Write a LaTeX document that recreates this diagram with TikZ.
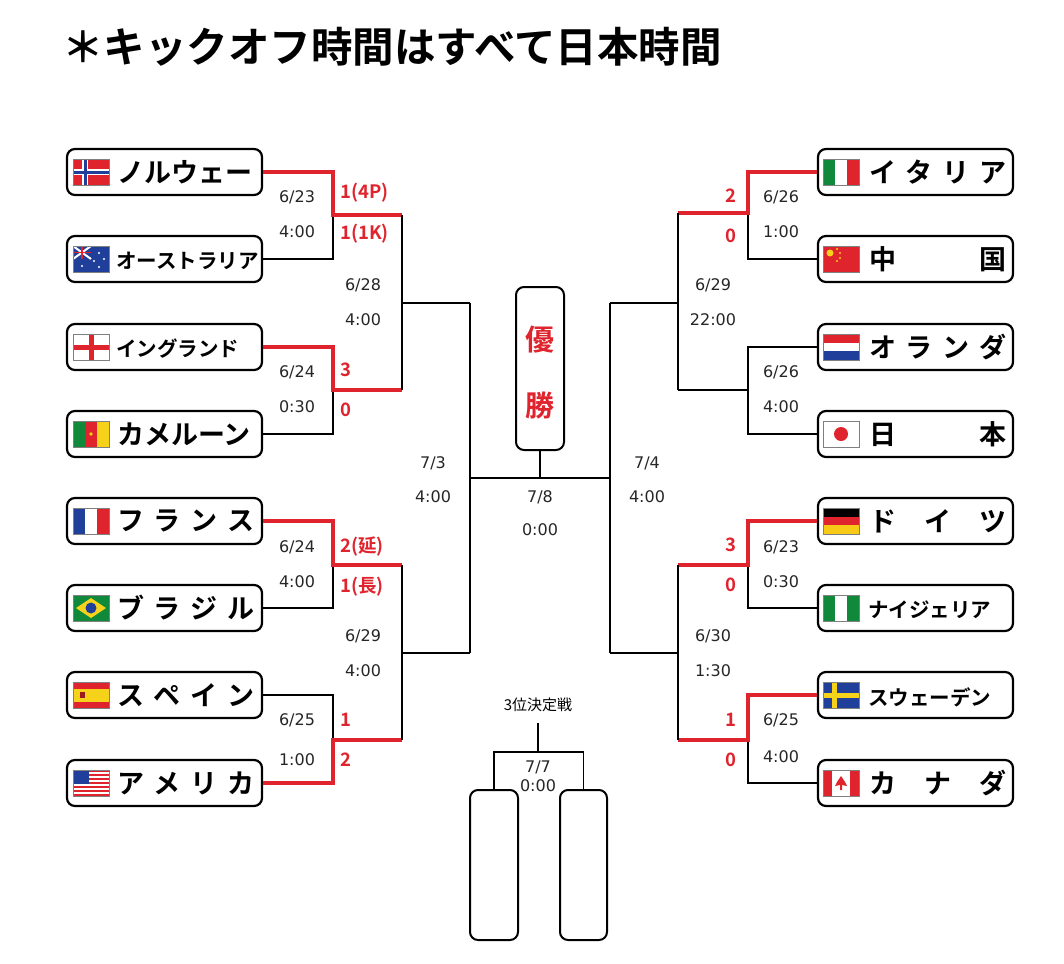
\documentclass[tikz,border=0pt]{standalone}
\usepackage{fontspec}
\setmainfont{DejaVu Sans}
\newfontfamily\jp{Noto Sans CJK JP}
\newfontfamily\jpb{Noto Sans CJK JP Bold}
\begin{document}
\begin{tikzpicture}[x=1pt,y=-1pt,
  team/.style={draw,line width=2.2pt,rounded corners=8pt,minimum width=195pt,minimum height=46pt,inner sep=0pt},
  nm/.style={anchor=west,inner sep=0pt,font=\jpb\fontsize{27}{27}\selectfont},
  nms/.style={anchor=west,inner sep=0pt,font=\jpb\fontsize{20.5}{21}\selectfont},
  dt/.style={font=\fontsize{16}{16}\selectfont,inner sep=0pt,text=black!85},
  sc/.style={font=\jpb\fontsize{18.5}{18.5}\selectfont,text=redl,inner sep=0pt},
  bl/.style={line width=1.6pt},
  rd/.style={line width=3.5pt,draw=redl},
  bigbox/.style={draw,line width=2pt,rounded corners=8pt,inner sep=0pt}]
\definecolor{redl}{HTML}{E0242E}
\definecolor{fblue}{HTML}{1F3F9A}
\definecolor{fgreen}{HTML}{108A3A}
\definecolor{fyel}{HTML}{F6D21A}
\useasboundingbox (0,0) rectangle (1064,963);
\fill[white] (0,0) rectangle (1064,963);
\node[anchor=west,inner sep=0pt,font=\jpb\fontsize{41.5}{41.5}\selectfont] (title) at (62,47) {＊キックオフ時間はすべて日本時間};
\tikzset{
 fl/.pic={\draw[line width=0.6pt,gray] (-18,-13) rectangle (18,13);},
 norway/.pic={\fill[redl](-18,-13)rectangle(18,13);\fill[white](-9,-13)rectangle(-3,13);\fill[white](-18,-3)rectangle(18,3);\fill[fblue](-7.5,-13)rectangle(-4.5,13);\fill[fblue](-18,-1.5)rectangle(18,1.5);},
 australia/.pic={\fill[fblue](-18,-13)rectangle(18,13);\draw[white,line width=2pt](-18,-13)--(0,0)(0,-13)--(-18,0);\draw[redl,line width=1.5pt](-9,-13)--(-9,0)(-18,-6.5)--(0,-6.5);\foreach \p in {(-9,7),(8,-6),(13,0),(8,8),(3,2)}\fill[white]\p circle(1.2);},
 england/.pic={\fill[white](-18,-13)rectangle(18,13);\fill[redl](-2.5,-13)rectangle(2.5,13);\fill[redl](-18,-2.5)rectangle(18,2.5);},
 cameroon/.pic={\fill[fgreen](-18,-13)rectangle(-6,13);\fill[redl](-6,-13)rectangle(6,13);\fill[fyel](6,-13)rectangle(18,13);\fill[fyel](0,0)circle(1.8);},
 france/.pic={\fill[fblue](-18,-13)rectangle(-6,13);\fill[white](-6,-13)rectangle(6,13);\fill[redl](6,-13)rectangle(18,13);},
 brazil/.pic={\fill[fgreen](-18,-13)rectangle(18,13);\fill[fyel](-15,0)--(0,-10)--(15,0)--(0,10)--cycle;\fill[fblue](0,0)circle(5.5);},
 spain/.pic={\fill[redl](-18,-13)rectangle(18,13);\fill[fyel](-18,-6.5)rectangle(18,6.5);\fill[redl!70!black](-11,-3)rectangle(-6,3);},
 usa/.pic={\fill[white](-18,-13)rectangle(18,13);\foreach \i in {0,2,...,12}\fill[redl](-18,-13+\i*2)rectangle(18,-11+\i*2);\fill[fblue](-18,-13)rectangle(-2,1);},
 italy/.pic={\fill[fgreen](-18,-13)rectangle(-6,13);\fill[white](-6,-13)rectangle(6,13);\fill[redl](6,-13)rectangle(18,13);},
 china/.pic={\fill[redl](-18,-13)rectangle(18,13);\fill[fyel](-11,-6)circle(3.5);\foreach \p in {(-4,-10),(-1,-6),(-1,-1),(-4,2)}\fill[fyel]\p circle(1.2);},
 netherlands/.pic={\fill[redl](-18,-13)rectangle(18,-4.3);\fill[white](-18,-4.3)rectangle(18,4.3);\fill[fblue](-18,4.3)rectangle(18,13);},
 japan/.pic={\fill[white](-18,-13)rectangle(18,13);\fill[redl](0,0)circle(7);},
 germany/.pic={\fill[black](-18,-13)rectangle(18,-4.3);\fill[redl](-18,-4.3)rectangle(18,4.3);\fill[fyel!90!orange](-18,4.3)rectangle(18,13);},
 nigeria/.pic={\fill[fgreen](-18,-13)rectangle(-6,13);\fill[white](-6,-13)rectangle(6,13);\fill[fgreen](6,-13)rectangle(18,13);},
 sweden/.pic={\fill[fblue](-18,-13)rectangle(18,13);\fill[fyel](-9,-13)rectangle(-4,13);\fill[fyel](-18,-2.5)rectangle(18,2.5);},
 canada/.pic={\fill[white](-18,-13)rectangle(18,13);\fill[redl](-18,-13)rectangle(-9,13);\fill[redl](9,-13)rectangle(18,13);\fill[redl](0,-7)--(4,-1)--(6,3)--(1,2)--(1,7)--(-1,7)--(-1,2)--(-6,3)--(-4,-1)--cycle;},
}
\foreach \n/\y/\f in {L1/172/norway,L2/259/australia,L3/347/england,L4/434/cameroon,L5/521/france,L6/608/brazil,L7/695/spain,L8/783/usa}{
  \node[team] (\n) at (164.5,\y) {};
  \pic at (91,\y) {\f}; \pic at (91,\y) {fl};
}
\foreach \n/\y/\f in {R1/172/italy,R2/259/china,R3/347/netherlands,R4/434/japan,R5/521/germany,R6/608/nigeria,R7/695/sweden,R8/783/canada}{
  \node[team] (\n) at (915.5,\y) {};
  \pic at (841,\y) {\f}; \pic at (841,\y) {fl};
}
\node[nm] at (117,172) {ノルウェー};
\node[nms] at (116,261) {オーストラリア};
\node[nms] at (116,349) {イングランド};
\node[nm] at (117,434) {カメルーン};
\node[nm] at (117,521) {\makebox[137pt][s]{フ\hfill ラ\hfill ン\hfill ス}};
\node[nm] at (117,608) {\makebox[137pt][s]{ブ\hfill ラ\hfill ジ\hfill ル}};
\node[nm] at (117,695) {\makebox[137pt][s]{ス\hfill ペ\hfill イ\hfill ン}};
\node[nm] at (117,783) {\makebox[137pt][s]{ア\hfill メ\hfill リ\hfill カ}};
\node[nm] at (869,172) {\makebox[137pt][s]{イ\hfill タ\hfill リ\hfill ア}};
\node[nm] at (869,259) {\makebox[137pt][s]{中\hfill 国}};
\node[nm] at (869,347) {\makebox[137pt][s]{オ\hfill ラ\hfill ン\hfill ダ}};
\node[nm] at (869,434) {\makebox[137pt][s]{日\hfill 本}};
\node[nm] at (869,521) {\makebox[137pt][s]{ド\hfill イ\hfill ツ}};
\node[nms] at (868,610) {ナイジェリア};
\node[nms] at (868,697) {スウェーデン};
\node[nm] at (869,783) {\makebox[137pt][s]{カ\hfill ナ\hfill ダ}};
\coordinate (a1) at (402,215); \coordinate (a2) at (402,390);
\coordinate (a3) at (402,565); \coordinate (a4) at (402,740);
\coordinate (b1) at (678,213); \coordinate (b2) at (678,390);
\coordinate (b3) at (678,565); \coordinate (b4) at (678,740);
\coordinate (cl) at (470,303); \coordinate (cl2) at (470,653);
\coordinate (cr) at (610,303); \coordinate (cr2) at (610,653);
\coordinate (mid) at (540,478);
\draw[bl] (L2.east) -| (333,215);
\draw[rd] (L1.east) -| (333,215) -- (a1);
\draw[bl] (L4.east) -| (333,390);
\draw[rd] (L3.east) -| (333,390) -- (a2);
\draw[bl] (L6.east) -| (333,565);
\draw[rd] (L5.east) -| (333,565) -- (a3);
\draw[bl] (L7.east) -| (333,740);
\draw[rd] (L8.east) -| (333,740) -- (a4);
\draw[bl] (a1) -- (a2) (402,303) -- (cl);
\draw[bl] (a3) -- (a4) (402,653) -- (cl2);
\draw[bl] (cl) -- (cl2) (470,478) -- (mid);
\draw[bl] (R2.west) -| (748,213);
\draw[rd] (R1.west) -| (748,213) -- (b1);
\draw[bl] (R3.west) -| (748,390) -- (b2);
\draw[bl] (R4.west) -| (748,390);
\draw[bl] (R6.west) -| (748,565);
\draw[rd] (R5.west) -| (748,565) -- (b3);
\draw[bl] (R8.west) -| (748,740);
\draw[rd] (R7.west) -| (748,740) -- (b4);
\draw[bl] (b1) -- (b2) (678,303) -- (cr);
\draw[bl] (b3) -- (b4) (678,653) -- (cr2);
\draw[bl] (cr) -- (cr2) (610,478) -- (mid);
\node[bigbox,minimum width=48pt,minimum height=163pt] (win) at (540,368.5) {};
\node[font=\jpb\fontsize{29}{29}\selectfont,text=redl] at (540,340) {優};
\node[font=\jpb\fontsize{29}{29}\selectfont,text=redl] at (540,405) {勝};
\draw[bl] (win.south) -- (mid);
\foreach \x/\y/\t in {297/197/6\slash 23,297/232/4:00,297/372/6\slash 24,297/407/0:30,297/547/6\slash 24,297/582/4:00,297/720/6\slash 25,297/760/1:00,
 363/285/6\slash 28,363/320/4:00,363/636/6\slash 29,363/671/4:00,433/463/7\slash 3,433/497/4:00,
 540/497/7\slash 8,540/530/0:00,
 781/197/6\slash 26,781/232/1:00,781/372/6\slash 26,781/407/4:00,781/547/6\slash 23,781/582/0:30,781/720/6\slash 25,781/757/4:00,
 713/285/6\slash 29,713/320/22:00,713/636/6\slash 30,713/671/1:30,647/463/7\slash 4,647/497/4:00}
 \node[dt] at (\x,\y) {\t};
\foreach \x/\y/\t in {340/193/1(4P),340/234/1(1K),340/547/2(延),340/587/1(長)}
 \node[sc,anchor=west] at (\x,\y) {\t};
\foreach \x/\y/\t in {346/370/3,346/410/0,346/720/1,346/760/2,731/196/2,731/236/0,731/545/3,731/585/0,731/720/1,731/760/0}
 \node[sc] at (\x,\y) {\t};
\node[font=\jp\fontsize{15}{15}\selectfont,inner sep=0pt] (third) at (538,705) {3位決定戦};
\node[bigbox,minimum width=48pt,minimum height=150pt] (t1) at (494,865) {};
\node[bigbox,minimum width=47pt,minimum height=150pt] (t2) at (583.5,865) {};
\coordinate (tj) at (538,752);
\draw[bl] (538,723) -- (tj);
\draw[bl] (t1.north) |- (tj) -| (t2.north);
\node[dt] at (538,767) {7\slash 7};
\node[dt] at (538,786) {0:00};
\end{tikzpicture}
\end{document}
